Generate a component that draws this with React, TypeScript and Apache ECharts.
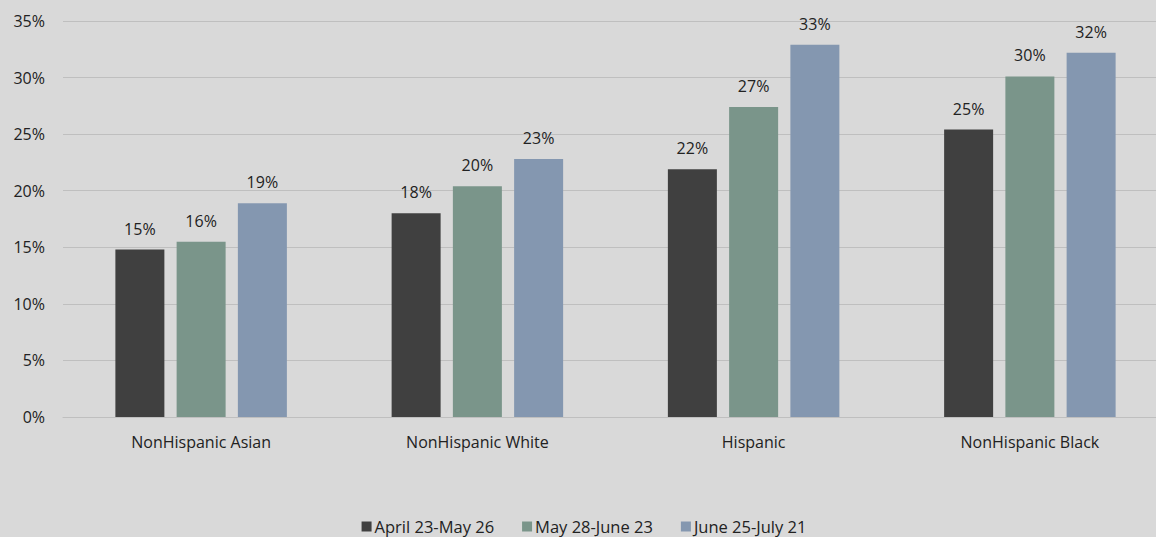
import React, { useEffect, useRef } from "react";
import * as echarts from "echarts";

const categories = ["NonHispanic Asian", "NonHispanic White", "Hispanic", "NonHispanic Black"];
const seriesNames = ["April 23-May 26", "May 28-June 23", "June 25-July 21"];
const april = [14.8, 18.0, 21.9, 25.4];
const may = [15.5, 20.4, 27.4, 30.1];
const june = [18.9, 22.8, 32.9, 32.2];
const colors = ["#404040", "#7a958a", "#8497b0"];
const yTicks = [0, 5, 10, 15, 20, 25, 30, 35];

export default function App() {
  const ref = useRef<HTMLDivElement>(null);
  useEffect(() => {
    document.body.style.margin = "0";
    const chart = echarts.init(ref.current!, null, { renderer: "svg" });
    const font = "'Open Sans', 'Liberation Sans', Arial, sans-serif";
    const data = [april, may, june];
    chart.setOption({
      animation: false,
      backgroundColor: "#d9d9d9",
      textStyle: { fontFamily: font },
      grid: { left: 63, right: 0, top: 21, bottom: 120 },
      legend: {
        bottom: -3,
        left: "center",
        itemWidth: 10,
        itemHeight: 10,
        itemGap: 28,
        icon: "rect",
        textStyle: { fontSize: 16.5, color: "#222", fontFamily: font, padding: [0, 0, 0, -2] },
        data: seriesNames,
      },
      xAxis: {
        type: "category",
        data: categories,
        axisTick: { show: false },
        axisLine: { show: true, lineStyle: { color: "#bfbfbf", width: 1 } },
        axisLabel: { fontSize: 16, color: "#222", margin: 17, fontFamily: font },
      },
      yAxis: {
        type: "value",
        min: 0,
        max: 35,
        interval: 5,
        axisLine: { show: false },
        axisTick: { show: false },
        splitLine: { lineStyle: { color: "#bfbfbf", width: 1 } },
        axisLabel: {
          fontSize: 16,
          color: "#222",
          margin: 18,
          fontFamily: font,
          formatter: (v: number) => (yTicks.includes(v) ? v + "%" : ""),
        },
      },
      series: seriesNames.map((name, i) => ({
        name,
        type: "bar",
        data: data[i],
        barWidth: 49,
        barGap: "25%",
        itemStyle: { color: colors[i] },
        label: {
          show: true,
          position: "top",
          distance: 13,
          fontSize: 16,
          color: "#222",
          fontFamily: font,
          formatter: (p: any) => Math.round(p.value) + "%",
        },
      })),
    });
    return () => chart.dispose();
  }, []);
  return (
    <div style={{ width: 1156, height: 537, overflow: "hidden" }}>
      <div ref={ref} style={{ width: 1168, height: 537 }} />
    </div>
  );
}
